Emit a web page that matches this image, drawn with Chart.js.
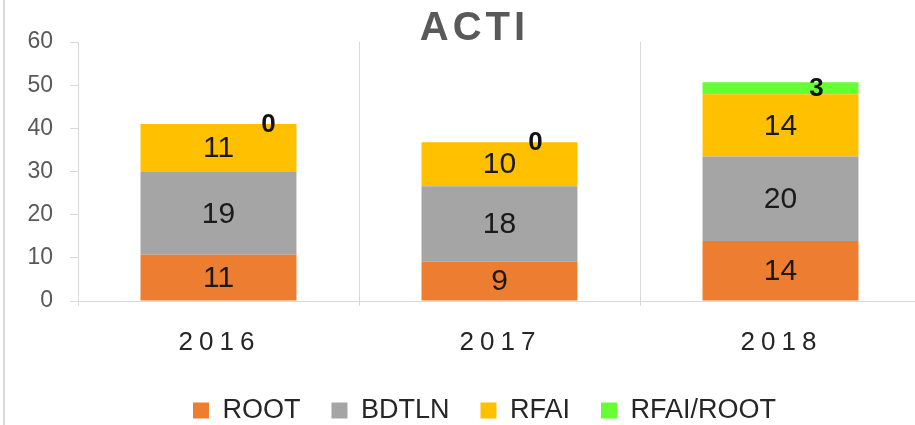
<!DOCTYPE html>
<html>
<head>
<meta charset="utf-8">
<script src="https://cdn.jsdelivr.net/npm/chart.js@4"></script>
<style>
    html, body { margin: 0; padding: 0; background: #fff; overflow: hidden; }
    #wrap { position: relative; width: 921px; height: 425px; }
    #frame { position: absolute; left: 3px; top: 0; width: 2px; height: 425px; background: #d9d9d9; }
</style>
</head>
<body>
<div id="wrap">
    <canvas id="actiChart"></canvas>
    <div id="frame"></div>
</div>
<script>
const years = ['2016', '2017', '2018'];
const rootValues = [10.7, 9.1, 13.9];
const bdtlnValues = [19.2, 17.5, 19.6];
const rfaiValues = [11.1, 10.2, 14.4];
const rfaiRootValues = [0, 0, 2.8];
const yTicks = [0, 10, 20, 30, 40, 50, 60];

const FONT = "'Liberation Sans', Arial, sans-serif";

// labels, title and letter-spaced year names drawn on top of the chart
const overlayPlugin = {
    id: 'overlay',
    afterLayout(chart) {
        // legend sits a little right of centre and lower in the original
        chart.legend.left += 24;
        chart.legend.right += 24;
        chart.legend.top += 9;
        chart.legend.bottom += 9;
    },
    afterDatasetsDraw(chart) {
        const ctx = chart.ctx;
        ctx.save();
        ctx.textAlign = 'center';
        ctx.textBaseline = 'middle';
        chart.data.datasets.forEach((ds, di) => {
            const meta = chart.getDatasetMeta(di);
            meta.data.forEach((bar, i) => {
                const mid = (bar.y + bar.base) / 2;
                const txt = Math.round(ds.data[i]).toString();
                if (di < 3) {
                    ctx.font = `30px ${FONT}`;
                    ctx.fillStyle = '#1a1a1a';
                    ctx.fillText(txt, bar.x, mid + 1);
                } else {
                    const nudge = [50, 36, 36][i];
                    ctx.font = `bold 26px ${FONT}`;
                    ctx.fillStyle = '#111';
                    ctx.fillText(txt, bar.x + nudge, mid + 1);
                }
            });
        });
        ctx.restore();
    },
    afterDraw(chart) {
        const ctx = chart.ctx;
        const x = chart.scales.x;
        const y = chart.scales.y;
        ctx.save();
        ctx.textAlign = 'center';
        ctx.textBaseline = 'middle';

        ctx.font = `26px ${FONT}`;
        ctx.fillStyle = '#262626';
        ctx.letterSpacing = '6px';
        years.forEach((yr, i) => {
            ctx.fillText(yr, x.getPixelForValue(i) + 1, y.bottom + 42);
        });

        ctx.font = `bold 40px ${FONT}`;
        ctx.fillStyle = '#595959';
        ctx.letterSpacing = '4px';
        ctx.fillText('ACTI', chart.width / 2 + 14, 29);
        ctx.restore();
    }
};

const ctx = document.getElementById('actiChart').getContext('2d');

new Chart(ctx, {
    type: 'bar',
    data: {
        labels: years,
        datasets: [
            { label: 'ROOT', data: rootValues, backgroundColor: '#ED7D31' },
            { label: 'BDTLN', data: bdtlnValues, backgroundColor: '#A5A5A5' },
            { label: 'RFAI', data: rfaiValues, backgroundColor: '#FFC000' },
            { label: 'RFAI/ROOT', data: rfaiRootValues, backgroundColor: '#66FF33' }
        ]
    },
    options: {
        responsive: true,
        maintainAspectRatio: false,
        animation: false,
        categoryPercentage: 1,
        barPercentage: 0.555,
        layout: {
            padding: { top: 42, left: 0, right: 0, bottom: 0 }
        },
        scales: {
            x: {
                stacked: true,
                grid: {
                    offset: true,
                    color: '#d9d9d9',
                    tickLength: 5
                },
                border: { color: '#d9d9d9' },
                ticks: {
                    callback: () => ''
                },
                afterFit: (scale) => { scale.height = 56; }
            },
            y: {
                stacked: true,
                min: 0,
                max: 60,
                afterBuildTicks: (scale) => {
                    scale.ticks = yTicks.map(v => ({ value: v }));
                },
                grid: {
                    drawOnChartArea: false,
                    color: '#d9d9d9',
                    tickLength: 8
                },
                border: { color: '#d9d9d9' },
                ticks: {
                    color: '#595959',
                    padding: 17,
                    font: { family: FONT, size: 23 }
                },
                afterFit: (scale) => { scale.width = 78; }
            }
        },
        plugins: {
            title: { display: false },
            tooltip: { enabled: false },
            legend: {
                position: 'bottom',
                labels: {
                    boxWidth: 16,
                    boxHeight: 16,
                    padding: 31,
                    color: '#262626',
                    font: { family: FONT, size: 27 }
                }
            }
        }
    },
    plugins: [overlayPlugin]
});
</script>
</body>
</html>
